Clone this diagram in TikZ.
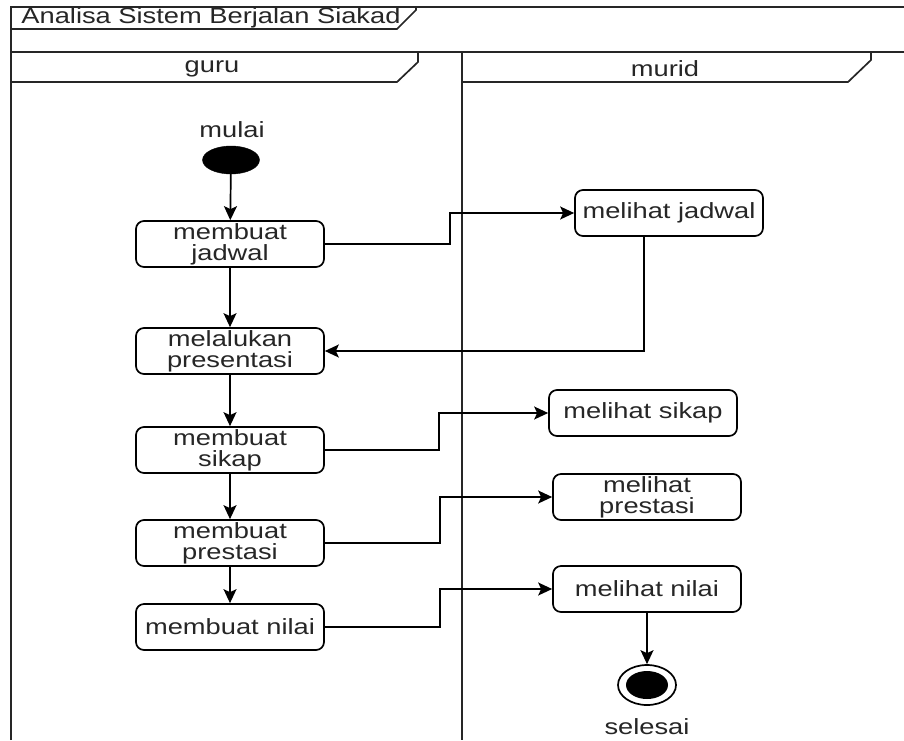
\documentclass[tikz,border=0pt]{standalone}
\usepackage{fontspec}
\setmainfont[FakeStretch=1.24]{Liberation Sans}
\usetikzlibrary{shapes.geometric,arrows.meta}
\begin{document}
\begin{tikzpicture}[x=1pt,y=-1pt,
  every node/.style={text=black!85, font=\fontsize{22}{21}\selectfont},
  act/.style={draw, rounded corners=8pt, line width=1.7pt, minimum width=188pt, minimum height=46pt, inner sep=0pt, align=center},
  conn/.style={line width=1.7pt, -{Stealth[length=14pt,width=13pt,inset=3pt]}},
  frame/.style={line width=1.7pt, black!85}]
\useasboundingbox (0,0) rectangle (904,740);
% frames
\draw[frame] (11,740) -- (11,7) -- (904,7);
\draw[frame] (11,29) -- (397,29) -- (416,10) -- (416,7);
\draw[frame] (11,52) -- (904,52);
\draw[frame] (11,82) -- (397,82) -- (418,62) -- (418,52);
\draw[frame] (462,52) -- (462,740);
\draw[frame] (462,82) -- (848,82) -- (871,60) -- (871,52);
\node (title) at (211,18) {Analisa Sistem Berjalan Siakad};
\node (guru) at (212,69) {guru};
\node (murid) at (665,69) {murid};
% guru lane
\node (mulai) at (232,130) {mulai};
\node[ellipse, draw, fill=black, minimum width=57pt, minimum height=28pt, inner sep=0pt] (start) at (231,160) {};
\node[act] (mj) at (230,244) {membuat\\jadwal};
\node[act] (pres) at (230,351) {melalukan\\presentasi};
\node[act] (ms) at (230,450) {membuat\\sikap};
\node[act] (mp) at (230,543) {membuat\\prestasi};
\node[act] (mn) at (230,627) {membuat nilai};
% murid lane
\node[act] (ljad) at (669,213) {melihat jadwal};
\node[act] (lsik) at (643,413) {melihat sikap};
\node[act] (lpres) at (647,497) {melihat\\prestasi};
\node[act] (lnil) at (647,589) {melihat nilai};
\node[ellipse, draw, line width=1.7pt, fill=white, minimum width=58pt, minimum height=40pt, inner sep=0pt] (endo) at (647,685) {};
\node[ellipse, fill=black, minimum width=42pt, minimum height=28pt, inner sep=0pt] (endi) at (endo) {};
\node (selesai) at (647,727) {selesai};
% connectors
\draw[conn] (start) -- (mj);
\draw[conn] (mj) -- (pres);
\draw[conn] (pres) -- (ms);
\draw[conn] (ms) -- (mp);
\draw[conn] (mp) -- (mn);
\draw[conn] (mj.east) -- ++(125,0) |- (ljad.west);
\draw[conn] ([xshift=-25pt]ljad.south) |- (pres.east);
\draw[conn] (ms.east) -- ++(114,0) |- (lsik.west);
\draw[conn] (mp.east) -- ++(115,0) |- (lpres.west);
\draw[conn] (mn.east) -- ++(115,0) |- (lnil.west);
\draw[conn] (lnil) -- (endo);
\end{tikzpicture}
\end{document}
